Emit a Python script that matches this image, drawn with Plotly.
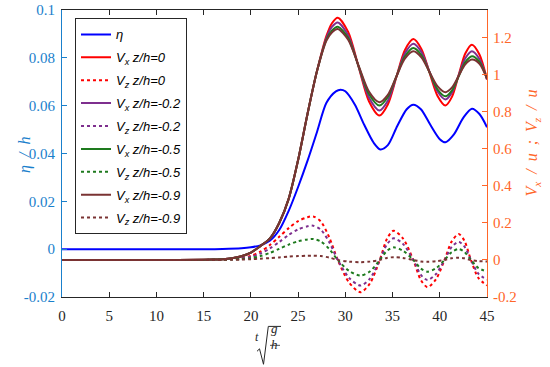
import plotly.graph_objects as go

# ---------------- data ----------------
eta_t = [0, 5, 10, 15, 17, 19, 20, 21, 22, 23, 24, 25, 26, 27, 28, 29, 29.5, 30, 31, 32, 33, 33.7,
         34.5, 35.5, 36.5, 37.2, 38, 39, 40, 40.6, 41.5, 42.5, 43.4, 44.2, 45]
eta = [0, 0, 0, 0, 0.0001, 0.0004, 0.0008, 0.0016, 0.0035, 0.008, 0.016, 0.026, 0.037, 0.049, 0.0612,
       0.066, 0.0667, 0.066, 0.0605, 0.052, 0.0445, 0.0417, 0.0435, 0.0515, 0.0585, 0.0604, 0.0585,
       0.052, 0.046, 0.0447, 0.048, 0.055, 0.0587, 0.0565, 0.051]

vx_t = [0, 5, 10, 15, 16, 17, 18, 19, 20, 21, 22, 23, 24, 25, 26, 27, 28, 28.6, 29.2, 30.3, 31.4,
        32.5, 33.6, 34.5, 35.4, 36.3, 37.2, 38.05, 38.9, 39.75, 40.6, 41.3, 42.0, 42.7, 43.4, 44.2, 45]
vx_0 = [0, 0, 0, 0.001, 0.002, 0.004, 0.009, 0.02, 0.04, 0.075, 0.115, 0.2, 0.33, 0.54, 0.79, 1.02,
        1.21, 1.28, 1.308, 1.231, 1.044, 0.857, 0.78, 0.84, 0.987, 1.133, 1.193, 1.140, 1.014, 0.887,
        0.834, 0.882, 0.999, 1.115, 1.163, 1.11, 0.975]
vx_02 = [0, 0, 0, 0.001, 0.002, 0.004, 0.009, 0.02, 0.04, 0.075, 0.115, 0.2, 0.33, 0.54, 0.79, 1.02,
         1.2, 1.26, 1.283, 1.213, 1.045, 0.877, 0.807, 0.860, 0.988, 1.115, 1.168, 1.124, 1.018, 0.911,
         0.867, 0.905, 0.997, 1.089, 1.127, 1.085, 0.975]
vx_05 = [0, 0, 0, 0.001, 0.002, 0.004, 0.009, 0.02, 0.04, 0.075, 0.115, 0.2, 0.33, 0.54, 0.79, 1.02,
         1.19, 1.24, 1.26, 1.198, 1.047, 0.896, 0.834, 0.880, 0.990, 1.099, 1.145, 1.107, 1.015, 0.922,
         0.884, 0.916, 0.992, 1.068, 1.10, 1.07, 0.98]
vx_09 = [0, 0, 0, 0.001, 0.002, 0.004, 0.009, 0.02, 0.04, 0.075, 0.115, 0.2, 0.33, 0.54, 0.79, 1.02,
         1.185, 1.23, 1.247, 1.189, 1.05, 0.91, 0.852, 0.892, 0.990, 1.087, 1.127, 1.095, 1.017, 0.939,
         0.906, 0.932, 0.994, 1.056, 1.082, 1.06, 0.98]

vz_t = [0, 5, 10, 15, 16, 17, 18, 19, 20, 21, 22, 23, 24, 25, 26, 26.6, 27.4, 28.3, 29.2, 30.4, 31.6,
        32.6, 33.65, 34.4, 35.1, 36.1, 37.2, 38.0, 38.7, 39.6, 40.5, 41.25, 42.0, 42.6, 43.3, 44.1, 45]
vz_0 = [0, 0, 0, 0, 0.001, 0.002, 0.005, 0.011, 0.022, 0.045, 0.08, 0.125, 0.172, 0.21, 0.231, 0.235,
        0.208, 0.122, 0, -0.122, -0.174, -0.127, 0, 0.113, 0.158, 0.117, 0, -0.109, -0.147, -0.104, 0,
        0.099, 0.14, 0.105, 0, -0.098, -0.138]
vz_02 = [0, 0, 0, 0, 0.001, 0.002, 0.004, 0.009, 0.017, 0.035, 0.062, 0.097, 0.135, 0.165, 0.182, 0.185,
         0.164, 0.096, 0, -0.097, -0.138, -0.101, 0, 0.084, 0.117, 0.087, 0, -0.08, -0.108, -0.076, 0,
         0.069, 0.098, 0.073, 0, -0.075, -0.106]
vz_05 = [0, 0, 0, 0, 0.0005, 0.001, 0.0025, 0.005, 0.01, 0.021, 0.038, 0.06, 0.083, 0.101, 0.111, 0.113,
         0.1, 0.059, 0, -0.059, -0.084, -0.062, 0, 0.049, 0.068, 0.05, 0, -0.047, -0.063, -0.045, 0,
         0.042, 0.059, 0.044, 0, -0.044, -0.062]
vz_09 = [0, 0, 0, 0, 0, 0.0005, 0.001, 0.002, 0.004, 0.007, 0.01, 0.014, 0.018, 0.021, 0.023, 0.023,
         0.021, 0.013, 0, -0.009, -0.012, -0.009, 0, 0.011, 0.015, 0.011, 0, -0.008, -0.01, -0.007, 0,
         0.009, 0.012, 0.009, 0, -0.006, -0.008]

x_ticks = [0, 5, 10, 15, 20, 25, 30, 35, 40, 45]
y1_ticks = [-0.02, 0, 0.02, 0.04, 0.06, 0.08, 0.1]
y1_text = ["-0.02", "0", "0.02", "0.04", "0.06", "0.08", "0.1"]
y2_ticks = [-0.2, 0, 0.2, 0.4, 0.6, 0.8, 1.0, 1.2]
y2_text = ["-0.2", "0", "0.2", "0.4", "0.6", "0.8", "1", "1.2"]

# ---------------- styles ----------------
BLUE_AX = "#1a80cc"
ORANGE = "#FF6629"
DARK = "#262626"
C_ETA = "#0000FF"
C_RED = "#FF0000"
C_PUR = "#7E2F8E"
C_GRN = "#1E7A1E"
C_BRN = "#7A3333"
SERIF = "Liberation Serif"
SANS = "Liberation Sans"

fig = go.Figure()

def add(x, y, name, color, dash, axis, grp):
    fig.add_trace(go.Scatter(
        x=x, y=y, name=name, mode="lines", yaxis=axis, legendgroup=grp,
        line=dict(color=color, width=2, dash=dash, shape="spline", smoothing=0.8),
    ))

add(eta_t, eta, "η", C_ETA, "solid", "y", "g0")
add(vx_t, vx_0, "V<sub>x</sub> z/h=0", C_RED, "solid", "y2", "g1")
add(vz_t, vz_0, "V<sub>z</sub> z/h=0", C_RED, "dot", "y2", "g2")
add(vx_t, vx_02, "V<sub>x</sub> z/h=-0.2", C_PUR, "solid", "y2", "g3")
add(vz_t, vz_02, "V<sub>z</sub> z/h=-0.2", C_PUR, "dot", "y2", "g4")
add(vx_t, vx_05, "V<sub>x</sub> z/h=-0.5", C_GRN, "solid", "y2", "g5")
add(vz_t, vz_05, "V<sub>z</sub> z/h=-0.5", C_GRN, "dot", "y2", "g6")
add(vx_t, vx_09, "V<sub>x</sub> z/h=-0.9", C_BRN, "solid", "y2", "g7")
add(vz_t, vz_09, "V<sub>z</sub> z/h=-0.9", C_BRN, "dot", "y2", "g8")

# plot-area pixel geometry
L, R, T, B = 62, 487, 9.5, 297.5
W, H = R - L, B - T
def px(x):
    return (x - L) / W
def py(y):
    return (B - y) / H

fig.update_layout(
    width=550, height=367,
    margin=dict(l=L, r=550 - R, t=T, b=367 - B, autoexpand=False),
    paper_bgcolor="white", plot_bgcolor="white",
    showlegend=True,
    legend=dict(
        x=px(75), y=py(18), xanchor="left", yanchor="top",
        bgcolor="white", bordercolor=DARK, borderwidth=1,
        font=dict(family=SANS, size=13, color="black", style="italic"),
        tracegroupgap=3, itemwidth=30,
    ),
    xaxis=dict(
        range=[0, 45], tickvals=x_ticks, ticks="inside", ticklen=5, tickcolor=DARK,
        showline=True, linecolor=DARK, linewidth=1, mirror="ticks",
        showgrid=False, zeroline=False, automargin=False,
        tickfont=dict(family=SERIF, size=15, color=DARK), ticklabelstandoff=5,
    ),
    yaxis=dict(
        range=[-0.02, 0.1], tickvals=y1_ticks, ticktext=y1_text, ticks="inside", ticklen=5,
        tickcolor=BLUE_AX, showline=True, linecolor=BLUE_AX, linewidth=1,
        showgrid=False, zeroline=False, automargin=False,
        tickfont=dict(family=SERIF, size=15, color=BLUE_AX), ticklabelstandoff=3,
    ),
    yaxis2=dict(
        range=[-0.2, 1.35], tickvals=y2_ticks, ticktext=y2_text, ticks="inside", ticklen=5,
        tickcolor=ORANGE, showline=True, linecolor=ORANGE, linewidth=1,
        overlaying="y", side="right", showgrid=False, zeroline=False, automargin=False,
        tickfont=dict(family=SERIF, size=15, color=ORANGE), ticklabelstandoff=2,
    ),
)

ann = []
ann.append(dict(text="<i>η\u2002/\u2002h</i>", x=px(14), y=py(155), xref="paper", yref="paper",
                showarrow=False, textangle=-90, font=dict(family=SERIF, size=16, color=BLUE_AX)))
ann.append(dict(text="<i>V<sub>x</sub>\u2002/\u2002u\u2002;\u2002V<sub>z</sub>\u2002/\u2002u</i>",
                x=px(544), y=py(143), xref="paper", yref="paper", showarrow=False, textangle=-90,
                font=dict(family=SERIF, size=16, color=ORANGE)))
# x-axis label: t * sqrt(g/h)
ann.append(dict(text="<i>t</i>", x=px(256.5), y=py(347), xref="paper", yref="paper",
                showarrow=False, font=dict(family=SERIF, size=12, color=DARK)))
ann.append(dict(text="<i>g</i>", x=px(274.5), y=py(338.5), xref="paper", yref="paper",
                showarrow=False, font=dict(family=SERIF, size=13, color=DARK)))
ann.append(dict(text="<i>h</i>", x=px(274.5), y=py(355), xref="paper", yref="paper",
                showarrow=False, font=dict(family=SERIF, size=13, color=DARK)))
fig.update_layout(annotations=ann)

rad = "M {} {} L {} {} L {} {} L {} {} L {} {}".format(
    px(257), py(352), px(259.5), py(349.5), px(263.5), py(365), px(268.3), py(327), px(281), py(327))
fig.add_shape(type="path", path=rad, xref="paper", yref="paper",
              line=dict(color=DARK, width=1))
fig.add_shape(type="line", x0=px(270), x1=px(280), y0=py(346), y1=py(346),
              xref="paper", yref="paper", line=dict(color=DARK, width=0.8))

fig.write_html("out.html", config={"displayModeBar": False},
               post_script="document.body.style.margin='0';")
